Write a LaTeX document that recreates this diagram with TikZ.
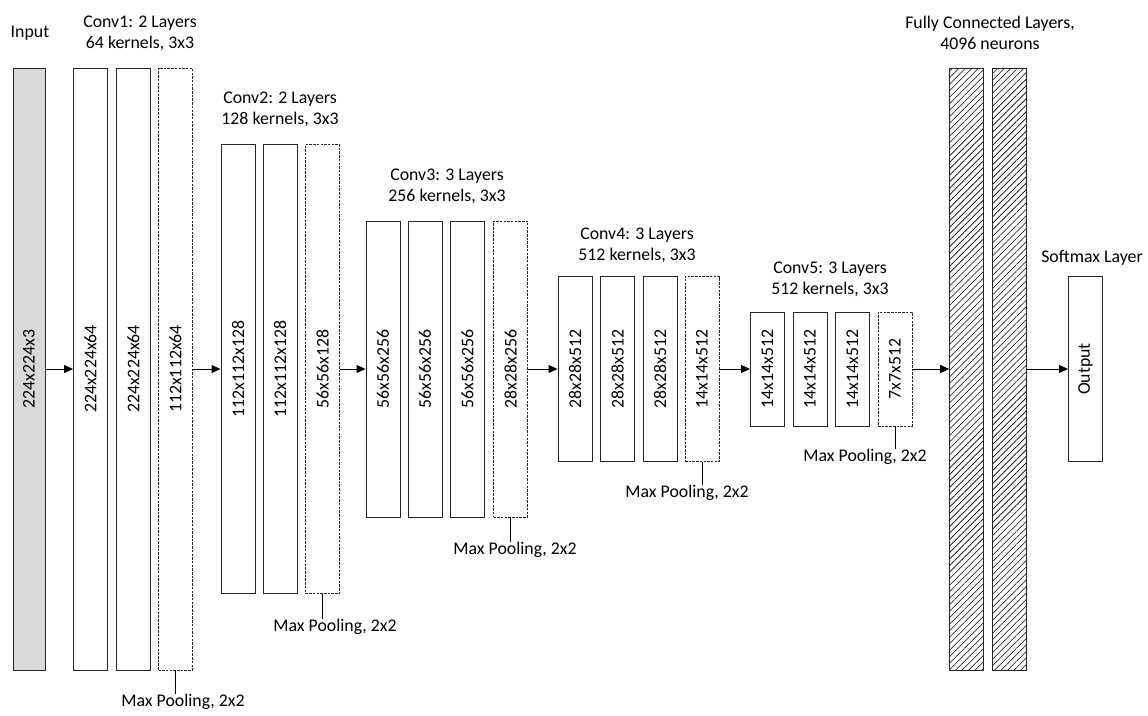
\documentclass[tikz,border=0pt]{standalone}
\usepackage{fontspec}
\setmainfont{Carlito}
\usetikzlibrary{arrows.meta,patterns.meta}
\begin{document}
\begin{tikzpicture}[x=1pt,y=-1pt,
  font=\fontsize{17.8}{21}\selectfont,
  layer/.style={draw=black!85, line width=0.9pt, minimum width=34pt, inner sep=0pt},
  pool/.style={layer, dash pattern=on 2.5pt off 1.2pt},
  fclayer/.style={layer, pattern={Lines[angle=45,distance=4.6pt,line width=0.6pt]}},
  flow/.style={-{Triangle[length=9pt,width=8pt]}, line width=0.9pt},
  lab/.style={align=center, inner sep=0pt}]
\useasboundingbox (0,0) rectangle (1148,715);
% input
\node[layer, fill=black!15, minimum width=32pt, minimum height=602pt] (in) at (29,369) {\rotatebox{90}{224x224x3}};
\node[lab] (inlab) at (30,33) {Input};
% conv1
\node[layer, minimum height=602pt] (c11) at (90.5,369) {\rotatebox{90}{224x224x64}};
\node[layer, minimum height=602pt] (c12) at (133.5,369) {\rotatebox{90}{224x224x64}};
\node[pool, minimum height=602pt] (c13) at (175.5,369) {\rotatebox{90}{112x112x64}};
\node[lab] (c1lab) at (140,33) {Conv1: 2 Layers\\64 kernels, 3x3};
% conv2
\node[layer, minimum height=449pt] (c21) at (238,369) {\rotatebox{90}{112x112x128}};
\node[layer, minimum height=449pt] (c22) at (280,369) {\rotatebox{90}{112x112x128}};
\node[pool, minimum height=449pt] (c23) at (322.5,369) {\rotatebox{90}{56x56x128}};
\node[lab] (c2lab) at (280,109.5) {Conv2: 2 Layers\\128 kernels, 3x3};
% conv3
\node[layer, minimum height=296pt] (c31) at (383,369) {\rotatebox{90}{56x56x256}};
\node[layer, minimum height=296pt] (c32) at (425,369) {\rotatebox{90}{56x56x256}};
\node[layer, minimum height=296pt] (c33) at (467.5,369) {\rotatebox{90}{56x56x256}};
\node[pool, minimum height=296pt] (c34) at (510.5,369) {\rotatebox{90}{28x28x256}};
\node[lab] (c3lab) at (447,186) {Conv3: 3 Layers\\256 kernels, 3x3};
% conv4
\node[layer, minimum height=185pt] (c41) at (575,369) {\rotatebox{90}{28x28x512}};
\node[layer, minimum height=185pt] (c42) at (617.5,369) {\rotatebox{90}{28x28x512}};
\node[layer, minimum height=185pt] (c43) at (660,369) {\rotatebox{90}{28x28x512}};
\node[pool, minimum height=185pt] (c44) at (702,369) {\rotatebox{90}{14x14x512}};
\node[lab] (c4lab) at (637,245.5) {Conv4: 3 Layers\\512 kernels, 3x3};
% conv5
\node[layer, minimum height=114pt] (c51) at (767.5,369) {\rotatebox{90}{14x14x512}};
\node[layer, minimum height=114pt] (c52) at (810,369) {\rotatebox{90}{14x14x512}};
\node[layer, minimum height=114pt] (c53) at (852.5,369) {\rotatebox{90}{14x14x512}};
\node[pool, minimum height=114pt] (c54) at (895,369) {\rotatebox{90}{7x7x512}};
\node[lab] (c5lab) at (830,279.5) {Conv5: 3 Layers\\512 kernels, 3x3};
% fully connected + softmax
\node[fclayer, minimum height=602pt] (fc1) at (966.5,369) {};
\node[fclayer, minimum height=602pt] (fc2) at (1009,369) {};
\node[lab] (fclab) at (990,33) {Fully Connected Layers,\\4096 neurons};
\node[layer, minimum height=185pt] (out) at (1085.5,369) {\rotatebox{90}{Output}};
\node[lab] (outlab) at (1092,258) {Softmax Layer};
% pooling notes
\node[lab, anchor=north] (mp1) at (183,694) {Max Pooling, 2x2};
\node[lab, anchor=north] (mp2) at (335,619) {Max Pooling, 2x2};
\node[lab, anchor=north] (mp3) at (515,542) {Max Pooling, 2x2};
\node[lab, anchor=north] (mp4) at (687,485) {Max Pooling, 2x2};
\node[lab, anchor=north] (mp5) at (865,449) {Max Pooling, 2x2};
\draw[line width=0.9pt] (c13.south) -- (c13.south |- mp1.north);
\draw[line width=0.9pt] (c23.south) -- (c23.south |- mp2.north);
\draw[line width=0.9pt] (c34.south) -- (c34.south |- mp3.north);
\draw[line width=0.9pt] (c44.south) -- (c44.south |- mp4.north);
\draw[line width=0.9pt] (c54.south) -- (c54.south |- mp5.north);
% flow
\draw[flow] (in.east) -- (c11.west);
\draw[flow] (c13.east) -- (c21.west);
\draw[flow] (c23.east) -- (c31.west);
\draw[flow] (c34.east) -- (c41.west);
\draw[flow] (c44.east) -- (c51.west);
\draw[flow] (c54.east) -- (fc1.west);
\draw[flow] (fc2.east) -- (out.west);
\end{tikzpicture}
\end{document}
